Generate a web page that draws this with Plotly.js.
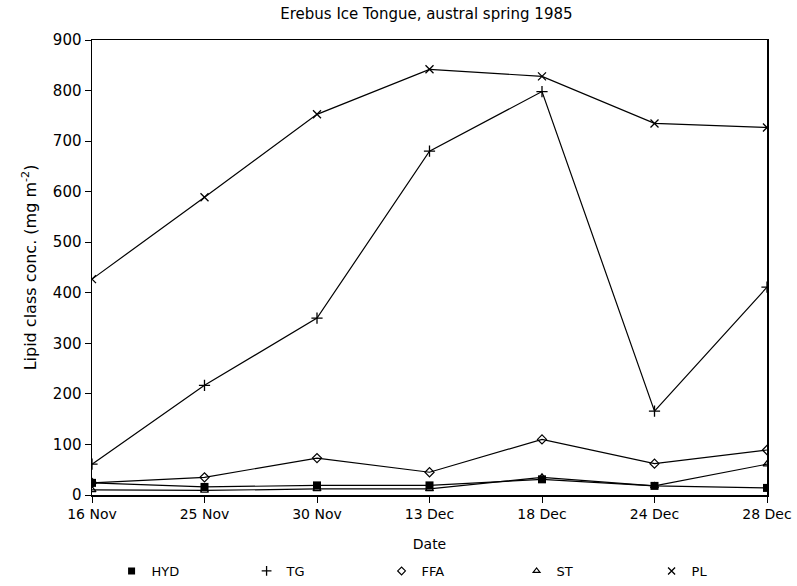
<!DOCTYPE html>
<html><head><meta charset="utf-8">
<script src="https://cdn.plot.ly/plotly-3.0.1.min.js"></script>
<style>html,body{margin:0;padding:0;background:#fff}</style>
</head><body>
<div id="chart" style="width:797px;height:586px"></div>
<script>
const dates = ["16 Nov","25 Nov","30 Nov","13 Dec","18 Dec","24 Dec","28 Dec"];
const HYD = [24, 16, 19, 19, 31, 18, 14];
const TG  = [61, 217, 350, 680, 798, 166, 411];
const FFA = [24, 35, 73, 45, 110, 62, 89];
const ST  = [10, 9, 12, 12, 35, 18, 61];
const PL  = [427, 589, 753, 842, 828, 735, 727];
const names = ["HYD","TG","FFA","ST","PL"];

const font = "DejaVu Sans, sans-serif";
const series = [HYD, TG, FFA, ST, PL];
const syms = ["square","cross-thin-open","diamond-open","triangle-up-open","x-thin-open"];
const sizes = [8, 8, 7, 7, 8];
const lws = [0, 1.3, 1.2, 1.2, 1.3];
const data = [];
series.forEach((y, i) => {
  data.push({x: dates, y: y, name: names[i], type:"scatter", mode:"lines+markers", showlegend:false,
    line:{color:"#000", width:1.2},
    marker:{symbol:syms[i], size:sizes[i], color:"#000", line:{color:"#000", width:lws[i]}}});
});
series.forEach((y, i) => {
  data.push({x:[null], y:[null], name: names[i], type:"scatter", mode:"markers", showlegend:true,
    marker:{symbol:syms[i], size:sizes[i]-1, color:"#000", line:{color:"#000", width:lws[i]}}});
});
const layout = {
  width:797, height:586,
  margin:{l:92, r:30, t:40, b:91},
  paper_bgcolor:"#fff", plot_bgcolor:"#fff",
  font:{family:font, size:14, color:"#000"},
  title:{text:"Erebus Ice Tongue, austral spring 1985", x:0.535, xanchor:"center", y:0.985, yanchor:"top", font:{size:15}},
  xaxis:{type:"category", range:[0,6], showline:true, linecolor:"#000", linewidth:1.5, mirror:true,
    ticks:"outside", ticklen:6, tickcolor:"#000", showgrid:false, zeroline:false,
    title:{text:"Date", standoff:18, font:{size:14}}},
  yaxis:{range:[0,900], dtick:100, showline:true, linecolor:"#000", linewidth:1.5, mirror:true,
    ticks:"outside", ticklen:6, tickcolor:"#000", showgrid:false, zeroline:false,
    tickfont:{size:15},
    title:{text:"Lipid class conc. (mg m<sup>-2</sup>)", standoff:12, font:{size:16}}},
  showlegend:true,
  legend:{orientation:"h", xref:"container", yref:"container", x:0.14, xanchor:"left", y:0.0, yanchor:"bottom", entrywidth:90,
    font:{size:13}},
};
Plotly.newPlot("chart", data, layout, {displayModeBar:false, staticPlot:true});
</script>
</body></html>
